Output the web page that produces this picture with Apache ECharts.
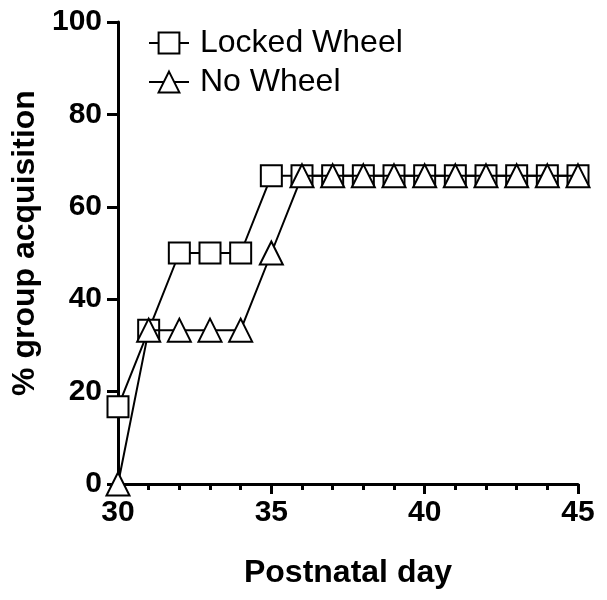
<!DOCTYPE html>
<html><head><meta charset="utf-8">
<script src="https://cdn.jsdelivr.net/npm/echarts@6/dist/echarts.min.js"></script>
<style>html,body{margin:0;padding:0;background:#fff}#c{width:607px;height:600px}</style>
</head><body><div id="c"></div>
<script>
var days = [30,31,32,33,34,35,36,37,38,39,40,41,42,43,44,45];
var lockedWheel = [16.7,33.3,50,50,50,66.7,66.7,66.7,66.7,66.7,66.7,66.7,66.7,66.7,66.7,66.7];
var noWheel = [0,33.3,33.3,33.3,33.3,50,66.7,66.7,66.7,66.7,66.7,66.7,66.7,66.7,66.7,66.7];
var seriesNames = ['Locked Wheel','No Wheel'];
var xTicks = [30,35,40,45];
var yTicks = [0,20,40,60,80,100];

function pairs(v){ return days.map(function(d,i){return [d,v[i]];}); }
var chart = echarts.init(document.getElementById('c'));
var font = 'Liberation Sans, Arial, sans-serif';
function mk(name, vals, sym){
  return {
    name:name, type:'line', data:pairs(vals), symbol:sym, symbolSize: sym==='rect'?21:23,
    clip:false,
    lineStyle:{color:'#000',width:2},
    itemStyle:{color:'#fff',borderColor:'#000',borderWidth:2},
    z: sym==='rect'?2:3
  };
}
chart.setOption({
  animation:false,
  backgroundColor:'#fff',
  grid:{left:118,right:29,top:22,bottom:116},
  legend:{
    left:143, top:22, orient:'vertical', itemGap:7, itemWidth:40, itemHeight:26,
    textStyle:{fontFamily:font,fontSize:32,color:'#000',padding:[0,0,0,6]},
    data:seriesNames
  },
  xAxis:{
    type:'value', min:30, max:45, interval:5,
    name:'Postnatal day', nameLocation:'middle', nameGap:73,
    nameTextStyle:{fontFamily:font,fontSize:32,fontWeight:'bold',color:'#000'},
    axisLine:{lineStyle:{color:'#000',width:3}},
    axisTick:{length:10,lineStyle:{color:'#000',width:3}},
    minorTick:{show:true,splitNumber:5,length:6,lineStyle:{color:'#000',width:3}},
    axisLabel:{fontFamily:font,fontSize:30,fontWeight:'bold',color:'#000',margin:14},
    splitLine:{show:false}
  },
  yAxis:{
    type:'value', min:0, max:100, interval:20,
    name:'% group acquisition', nameLocation:'middle', nameGap:76,
    nameTextStyle:{fontFamily:font,fontSize:32,fontWeight:'bold',color:'#000',padding:[0,0,0,20]},
    axisLine:{show:true,lineStyle:{color:'#000',width:3}},
    axisTick:{show:true,length:11,lineStyle:{color:'#000',width:3}},
    axisLabel:{fontFamily:font,fontSize:30,fontWeight:'bold',color:'#000',margin:16},
    splitLine:{show:false}
  },
  series:[mk(seriesNames[0],lockedWheel,'rect'), mk(seriesNames[1],noWheel,'triangle')]
});
</script></body></html>
